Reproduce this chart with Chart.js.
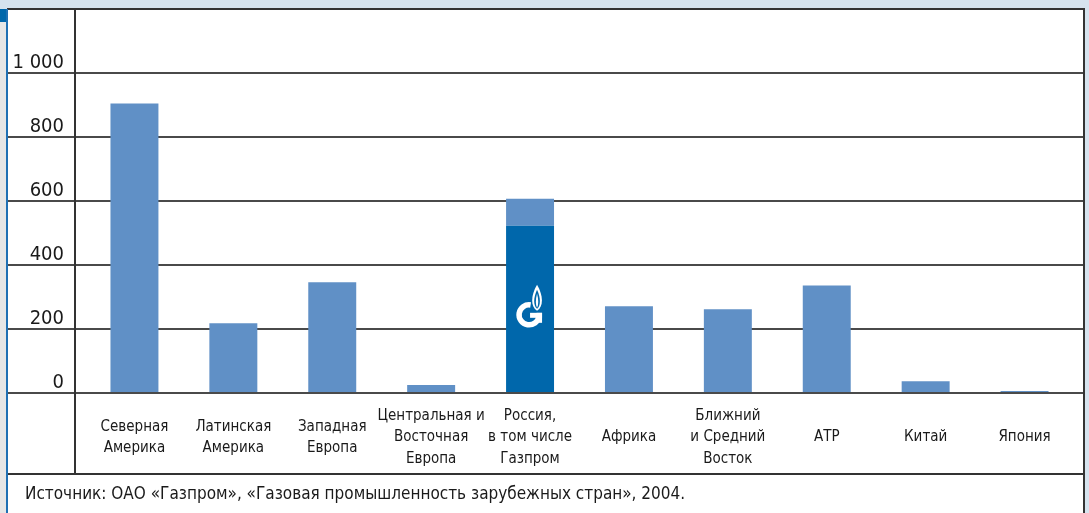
<!DOCTYPE html>
<html>
<head>
<meta charset="utf-8">
<script src="https://cdn.jsdelivr.net/npm/chart.js@4"></script>
<style>
  html, body { margin: 0; padding: 0; background: #fff; }
  #wrap { position: relative; width: 1089px; height: 513px; }
</style>
</head>
<body>
<div id="wrap"><canvas id="chartGas" width="1089" height="513"></canvas></div>
<script>
// Категории и значения
const categories = [
    ['Северная', 'Америка'],
    ['Латинская', 'Америка'],
    ['Западная', 'Европа'],
    ['Центральная и', 'Восточная', 'Европа'],
    ['Россия,', 'в том числе', 'Газпром'],
    ['Африка'],
    ['Ближний', 'и Средний', 'Восток'],
    ['АТР'],
    ['Китай'],
    ['Япония']
];
const mainValues  = [905, 218, 346, 25, 523, 271, 262, 336, 37, 6]; // для России — доля Газпрома
const extraValues = [null, null, null, null, 84, null, null, null, null, null]; // остаток России
const yTickLabels = ['0', '200', '400', '600', '800', '1 000', ''];
const sourceText = 'Источник: ОАО «Газпром», «Газовая промышленность зарубежных стран», 2004.';

const LIGHT = '#6090c6';
const DARK = '#0067ab';
const FONT = "'Liberation Sans Narrow', 'DejaVu Sans Condensed', 'Roboto Condensed', sans-serif";
const gazIndex = 4;
const xInset = 10; // поля внутри области графика слева и справа

// рамка, фон, логотип и подпись источника
const framePlugin = {
    id: 'frame',
    afterLayout(chart) {
        // сужаем категориальную ось внутри области графика
        const xs = chart.scales.x;
        xs._startPixel = xs.left + xInset;
        xs._endPixel = xs.right - xInset;
        xs._length = xs._endPixel - xs._startPixel;
    },
    beforeDraw(chart) {
        const c = chart.ctx;
        c.save();
        c.fillStyle = '#d6e3ee';
        c.fillRect(0, 0, 1089, 9);
        c.fillRect(1085, 0, 4, 513);
        c.fillStyle = '#e6e6e6';
        c.fillRect(0, 9, 7, 504);
        c.fillStyle = DARK;
        c.fillRect(0, 9, 7, 13);
        c.restore();
    },
    afterDraw(chart) {
        const c = chart.ctx;
        const a = chart.chartArea;
        const xs = chart.scales.x;
        c.save();
        c.strokeStyle = '#333';
        c.lineWidth = 2;
        // внешняя рамка
        c.beginPath();
        c.moveTo(7, 9); c.lineTo(1085, 9);
        c.moveTo(1084, 9); c.lineTo(1084, 513);
        // вертикальная линия оси
        c.moveTo(a.left, 9); c.lineTo(a.left, xs.bottom);
        // линия под подписями
        c.moveTo(8, xs.bottom); c.lineTo(1084, xs.bottom);
        c.stroke();
        // левая синяя кромка
        c.fillStyle = '#1f70b4';
        c.fillRect(6, 9, 2, 504);

        // логотип Газпрома на столбце России
        const bar = chart.getDatasetMeta(0).data[gazIndex];
        const cx = bar.x - 1;
        const cy = (bar.y + bar.base) / 2 + 6;
        c.fillStyle = '#fff';
        c.strokeStyle = '#fff';
        c.lineWidth = 5.5;
        c.beginPath();
        c.arc(cx, cy, 10, 0.05 * Math.PI, 1.55 * Math.PI);
        c.stroke();
        c.fillRect(cx + 1, cy - 2, 12, 5);
        c.fillRect(cx + 7.5, cy - 2, 5.5, 10);
        // пламя
        const fx = cx + 8, fy = cy - 4;
        c.beginPath();
        c.moveTo(fx, fy - 26);
        c.bezierCurveTo(fx + 6.5, fy - 15, fx + 6.5, fy - 4, fx, fy);
        c.bezierCurveTo(fx - 6.5, fy - 4, fx - 6.5, fy - 15, fx, fy - 26);
        c.fill();
        c.fillStyle = DARK;
        c.beginPath();
        c.moveTo(fx, fy - 21);
        c.bezierCurveTo(fx + 3.8, fy - 13, fx + 3.8, fy - 5, fx, fy - 2);
        c.bezierCurveTo(fx - 3.8, fy - 5, fx - 3.8, fy - 13, fx, fy - 21);
        c.fill();
        c.fillStyle = '#fff';
        c.beginPath();
        c.moveTo(fx, fy - 17);
        c.bezierCurveTo(fx + 1.6, fy - 11, fx + 1.6, fy - 6, fx, fy - 3);
        c.bezierCurveTo(fx - 1.6, fy - 6, fx - 1.6, fy - 11, fx, fy - 17);
        c.fill();

        // источник
        c.fillStyle = '#1a1a1a';
        c.font = '17px ' + FONT;
        c.textAlign = 'left';
        c.textBaseline = 'middle';
        c.fillText(sourceText, 25, 495);
        c.restore();
    }
};

const ctxGas = document.getElementById('chartGas').getContext('2d');
new Chart(ctxGas, {
    type: 'bar',
    data: {
        labels: categories,
        datasets: [{
            data: mainValues,
            backgroundColor: mainValues.map((v, i) => i === gazIndex ? DARK : LIGHT),
            borderWidth: 0
        }, {
            data: extraValues,
            backgroundColor: LIGHT,
            borderWidth: 0
        }]
    },
    options: {
        responsive: false,
        animation: false,
        devicePixelRatio: 1,
        layout: { padding: { left: 8, right: 5, top: 9, bottom: 39 } },
        datasets: { bar: { barPercentage: 0.485, categoryPercentage: 1 } },
        plugins: { legend: { display: false }, tooltip: { enabled: false } },
        scales: {
            x: {
                stacked: true,
                grid: { display: false, drawTicks: false },
                border: { display: false },
                ticks: {
                    autoSkip: false,
                    maxRotation: 0,
                    crossAlign: 'center',
                    padding: 23,
                    color: '#1a1a1a',
                    font: { family: FONT, size: 15, lineHeight: 1.43 }
                },
                afterFit(scale) { scale.height = 81; }
            },
            y: {
                stacked: true,
                min: 0,
                max: 1200,
                grid: { color: '#4a4a4a', lineWidth: 2, tickLength: 67, drawTicks: true, tickColor: '#4a4a4a' },
                border: { display: false },
                ticks: {
                    stepSize: 200,
                    padding: -56,
                    labelOffset: -10,
                    color: '#1a1a1a',
                    font: { family: FONT, size: 20 },
                    callback: (v, i) => yTickLabels[i]
                },
                afterFit(scale) { scale.width = 67; }
            }
        }
    },
    plugins: [framePlugin]
});
</script>
</body>
</html>
